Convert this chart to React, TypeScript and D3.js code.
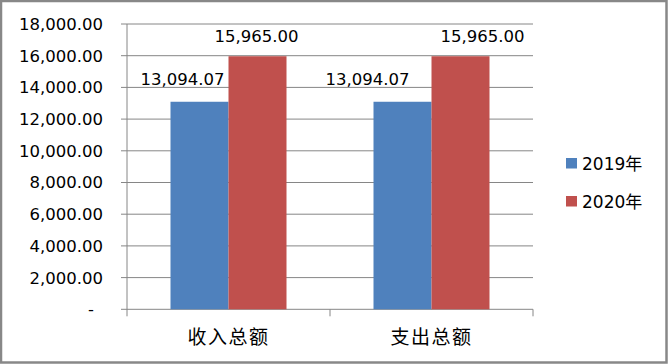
import React from "react";
import * as d3 from "d3";

const categories = ["收入总额", "支出总额"];
const seriesNames = ["2019年", "2020年"];
const values2019 = [13094.07, 13094.07];
const values2020 = [15965.0, 15965.0];
const yTicks = [0, 2000, 4000, 6000, 8000, 10000, 12000, 14000, 16000, 18000];

const W = 668;
const H = 364;
const colors = ["#4F81BD", "#C0504D"];
const grid = "#868686";
const numFont = "'DejaVu Sans', 'Noto Sans CJK SC', sans-serif";
const cjkFont = "'Noto Sans CJK SC', 'DejaVu Sans', sans-serif";
// manual label nudges (as in the reference)
const labelShift = [
  [-17, -1],
  [-35, 22],
];

export default function App() {
  const left = 127;
  const right = 533;
  const top = 24;
  const bottom = 309.3;
  const x = d3.scaleBand<string>().domain(categories).range([left, right]).paddingInner(0).paddingOuter(0);
  const inner = d3.scaleBand<string>().domain(seriesNames).range([0, x.bandwidth()]).paddingInner(0).paddingOuter(0.75);
  const y = d3.scaleLinear().domain([0, 18000]).range([bottom, top]);
  const fmt = d3.format(",.2f");
  const series = [values2019, values2020];

  return (
    <svg width={W} height={H} style={{ position: "absolute", left: 0, top: 0, background: "#fff" }}>
      <rect x={1} y={1} width={W - 2.5} height={H - 2.5} fill="#fff" stroke="#888" strokeWidth={2.5} />
      {yTicks.map((t) => (
        <g key={t}>
          <line x1={left - 6} x2={right} y1={y(t)} y2={y(t)} stroke={grid} strokeWidth={1} />
          <text
            x={t === 0 ? 94 : 103}
            y={y(t)}
            dy="0.36em"
            textAnchor="end"
            fontFamily={numFont}
            fontSize={16.5}
            fill="#000"
          >
            {t === 0 ? "-" : fmt(t)}
          </text>
        </g>
      ))}
      <line x1={left} x2={left} y1={top} y2={bottom} stroke={grid} />
      {[...categories.map((c) => x(c)!), right].map((px, i) => (
        <line key={i} x1={px} x2={px} y1={bottom} y2={bottom + 7} stroke={grid} />
      ))}
      {categories.map((c, ci) =>
        series.map((vals, si) => {
          const bx = x(c)! + inner(seriesNames[si])!;
          const bw = inner.bandwidth();
          return (
            <g key={c + si}>
              <rect x={bx} y={y(vals[ci])} width={bw} height={bottom - y(vals[ci])} fill={colors[si]} />
              <text
                x={bx + bw / 2 + labelShift[ci][si]}
                y={y(vals[ci]) - (si === 0 ? 23 : 20)}
                dy="0.36em"
                textAnchor="middle"
                fontFamily={numFont}
                fontSize={16.5}
                fill="#000"
              >
                {fmt(vals[ci])}
              </text>
            </g>
          );
        })
      )}
      {categories.map((c) => (
        <text
          key={c}
          x={x(c)! + x.bandwidth() / 2}
          y={337}
          dy="0.36em"
          textAnchor="middle"
          fontFamily={cjkFont}
          fontSize={19}
          letterSpacing={1.5}
          fill="#000"
        >
          {c}
        </text>
      ))}
      {seriesNames.map((s, i) => (
        <g key={s}>
          <rect x={566} y={158 + i * 38} width={11} height={10.5} fill={colors[i]} />
          <text x={582} y={163.5 + i * 38} dy="0.36em" fontFamily={numFont} fontSize={17} fill="#000">
            {s}
          </text>
        </g>
      ))}
    </svg>
  );
}
